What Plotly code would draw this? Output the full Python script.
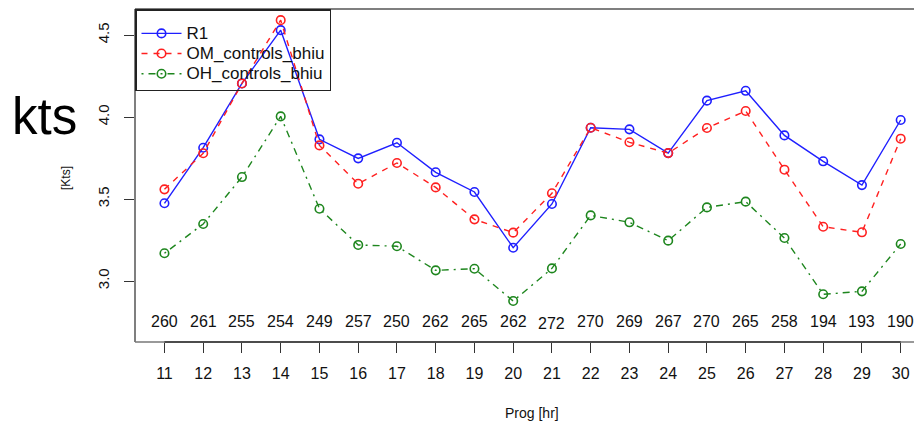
import plotly.graph_objects as go

prog_hr = list(range(11, 31))
counts = [260, 261, 255, 254, 249, 257, 250, 262, 265, 262,
          272, 270, 269, 267, 270, 265, 258, 194, 193, 190]
r1 = [3.474, 3.813, 4.205, 4.530, 3.864, 3.748, 3.843, 3.663, 3.543, 3.203,
      3.470, 3.935, 3.925, 3.780, 4.100, 4.160, 3.888, 3.730, 3.585, 3.982]
om_controls = [3.559, 3.779, 4.205, 4.591, 3.827, 3.593, 3.720, 3.571, 3.376, 3.295,
               3.535, 3.935, 3.846, 3.780, 3.933, 4.037, 3.679, 3.331, 3.297, 3.868]
oh_controls = [3.169, 3.348, 3.634, 4.004, 3.441, 3.220, 3.212, 3.065, 3.075, 2.878,
               3.077, 3.400, 3.358, 3.246, 3.449, 3.484, 3.262, 2.919, 2.937, 3.226]
y_ticks = [3.0, 3.5, 4.0, 4.5]
y_tick_labels = ["3.0", "3.5", "4.0", "4.5"]
series_names = ["R1", "OM_controls_bhiu", "OH_controls_bhiu"]

FONT = "Liberation Sans, Arial, sans-serif"
BLUE = "#1f1fff"
RED = "#ff2020"
GREEN = "#1e861e"


def legend_name(s):
    return "<span style='font-size:17px'>%s</span>" % s


fig = go.Figure()
fig.add_trace(go.Scatter(x=prog_hr, y=r1, name=legend_name(series_names[0]), mode="lines+markers",
                         line=dict(color=BLUE, width=1.4),
                         marker=dict(symbol="circle-open", size=8.5, color=BLUE, line=dict(width=1.6))))
fig.add_trace(go.Scatter(x=prog_hr, y=om_controls, name=legend_name(series_names[1]), mode="lines+markers",
                         line=dict(color=RED, width=1.4, dash="6px,6px"),
                         marker=dict(symbol="circle-open", size=8.5, color=RED, line=dict(width=1.6))))
fig.add_trace(go.Scatter(x=prog_hr, y=oh_controls, name=legend_name(series_names[2]), mode="lines+markers",
                         line=dict(color=GREEN, width=1.4, dash="2px,5px,7px,5px"),
                         marker=dict(symbol="circle-open", size=8.5, color=GREEN, line=dict(width=1.6))))

annotations = []
for x, c in zip(prog_hr, counts):
    annotations.append(dict(x=x, y=0.061, xref="x", yref="paper", text=str(c),
                            xanchor="center", yanchor="middle",
                            showarrow=False, font=dict(family=FONT, size=16, color="#111"),
                            yshift=-2 if c == 272 else 0))
annotations += [
    dict(x=-0.1144, y=0.676, xref="paper", yref="paper", text="kts", showarrow=False,
         xanchor="center", yanchor="middle",
         font=dict(family=FONT, size=51, color="black")),
    dict(x=-0.0877, y=0.4925, xref="paper", yref="paper", text="[Kts]", showarrow=False,
         xanchor="center", yanchor="middle",
         textangle=-90, font=dict(family=FONT, size=12, color="#111")),
    dict(x=0.5045, y=-0.2132, xref="paper", yref="paper", text="Prog [hr]", showarrow=False,
         xanchor="center", yanchor="middle",
         font=dict(family=FONT, size=14, color="#111")),
]

shapes = [
    dict(type="line", xref="paper", yref="paper", x0=0, x1=1, y0=1, y1=1,
         line=dict(color="#555", width=1.5)),
    dict(type="line", xref="paper", yref="paper", x0=0, x1=0, y0=0, y1=1,
         line=dict(color="#555", width=1.5)),
    dict(type="line", xref="paper", yref="paper", x0=0, x1=1, y0=0, y1=0,
         line=dict(color="#777", width=1.5)),
    dict(type="line", xref="x", yref="paper", x0=prog_hr[0], x1=prog_hr[-1], y0=0, y1=0,
         line=dict(color="#333", width=1.5)),
]

# page body has an 8px default margin, so the figure is 914x418 placed at (8, 8)
fig.update_layout(
    width=914, height=418,
    margin=dict(l=127, r=0, t=1, b=84),
    paper_bgcolor="white", plot_bgcolor="white",
    font=dict(family=FONT, color="#111"),
    showlegend=True,
    legend=dict(x=0, y=1, xanchor="left", yanchor="top",
                bgcolor="rgba(0,0,0,0)", bordercolor="#222", borderwidth=1.5,
                font=dict(family=FONT, size=13.2, color="#111"),
                title=dict(text="&nbsp;", font=dict(size=6)),
                itemwidth=40),
    xaxis=dict(range=[10.24, 30.55], tickvals=prog_hr, ticktext=[str(v) for v in prog_hr],
               ticks="outside", ticklen=10, tickcolor="#333", tickwidth=1.3,
               showgrid=False, zeroline=False, showline=False,
               tickfont=dict(family=FONT, size=16, color="#111"), ticklabelstandoff=7),
    yaxis=dict(range=[2.628, 4.659], tickvals=y_ticks, ticktext=y_tick_labels,
               ticks="outside", ticklen=10, tickcolor="#333", tickwidth=1.3,
               showgrid=False, zeroline=False, showline=False, tickangle=-90,
               tickfont=dict(family=FONT, size=15, color="#111"), ticklabelstandoff=9),
    annotations=annotations,
    shapes=shapes,
)

fig.write_html("out.html")
